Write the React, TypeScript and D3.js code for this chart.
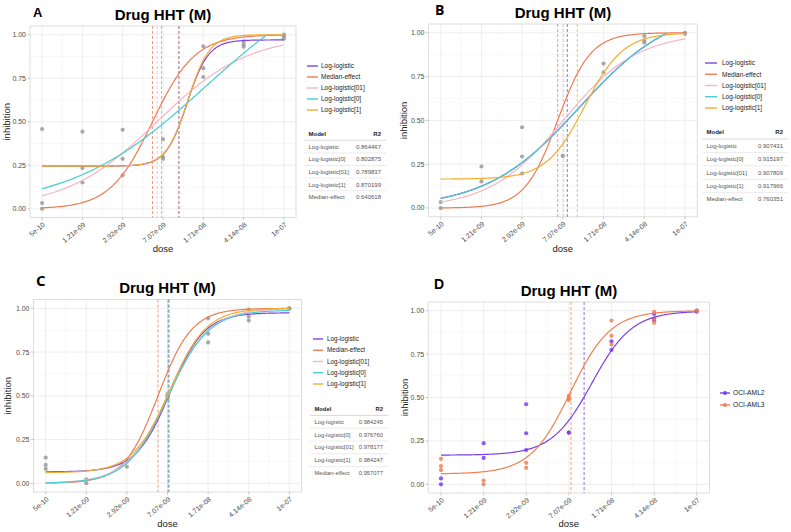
import React from "react";
import * as d3 from "d3";

const W = 791;
const H = 532;

const doseTicks = [5e-10, 1.21e-9, 2.92e-9, 7.07e-9, 1.71e-8, 4.14e-8, 1e-7];
const doseTickLabels = ["5e-10", "1.21e-09", "2.92e-09", "7.07e-09", "1.71e-08", "4.14e-08", "1e-07"];
const yTicks = [0, 0.25, 0.5, 0.75, 1];
const yTickLabels = ["0.00", "0.25", "0.50", "0.75", "1.00"];

const modelNames = ["Log-logistic", "Median-effect", "Log-logistic[01]", "Log-logistic[0]", "Log-logistic[1]"];
const modelColors = ["#7F45E0", "#F07A52", "#F6B5C4", "#46CDD0", "#F6AC2E"];
const tableModels = ["Log-logistic", "Log-logistic[0]", "Log-logistic[01]", "Log-logistic[1]", "Median-effect"];

// replicate inhibition values per dose (index matches doseTicks)
const panelAValues = [
  [0.458, 0.033, 0.0],
  [0.443, 0.234, 0.151],
  [0.454, 0.287, 0.192],
  [0.4, 0.297, 0.287],
  [0.933, 0.808, 0.757],
  [0.962, 0.943, 0.931],
  [1.0, 0.99, 0.977],
];
const aml2Values = [
  [0.034, 0.0],
  [0.237, 0.152],
  [0.461, 0.294, 0.197],
  [0.298, 0.298],
  [0.824, 0.774],
  [0.981, 0.954, 0.945],
  [1.0, 0.994],
];
const aml3Values = [
  [0.147, 0.105, 0.082],
  [0.022, 0.0],
  [0.124, 0.095],
  [0.51, 0.497, 0.485],
  [0.943, 0.855, 0.805],
  [0.993, 0.952, 0.93],
  [1.0, 0.998],
];

// fitted model parameters [bottom, top, ec50, hill], in modelNames order
const panelAFits = [
  [0.245, 0.97, 1.2e-8, 4.3],
  [0, 1, 5.62e-9, 2.15],
  [0, 1, 6.2e-9, 1.0],
  [0, 1.4, 1.78e-8, 0.675],
  [0.245, 1.0, 1.22e-8, 4.2],
];
const panelBFits = [
  [0, 1.15, 1.015e-8, 0.99],
  [0, 1, 6.32e-9, 2.8],
  [0, 1, 7.15e-9, 1.25],
  [0, 1.15, 1.015e-8, 0.99],
  [0.165, 1, 1.14e-8, 2.4],
];
const panelCFits = [
  [0.065, 0.975, 7.5e-9, 2.7],
  [0, 1, 5.75e-9, 2.7],
  [0, 1, 7.15e-9, 2.2],
  [0, 0.99, 7.13e-9, 2.27],
  [0.06, 1.0, 7.4e-9, 2.5],
];
const panelDFits = [
  [0.168, 0.998, 1.14e-8, 2.4],
  [0.06, 1.0, 7.3e-9, 2.4],
];

// dashed IC50 lines
const panelAIC50 = [1.0e-8, 5.62e-9, 6.22e-9, 6.85e-9, 1.007e-8];
const panelBIC50 = [7.8e-9, 6.32e-9, 7.15e-9, 7.8e-9, 9.68e-9];
const panelCIC50 = [7.25e-9, 5.75e-9, 7.1e-9, 7.2e-9, 7.35e-9];
const panelDIC50 = [9.7e-9, 7.4e-9];

const panelAR2 = ["0.864467", "0.802875", "0.789837", "0.870199", "0.640618"];
const panelBR2 = ["0.907431", "0.915197", "0.907809", "0.917966", "0.760351"];
const panelCR2 = ["0.984245", "0.976760", "0.978177", "0.984247", "0.957077"];

const cellNames = ["OCI-AML2", "OCI-AML3"];
const cellColors = ["#7B3FE4", "#F08050"];

const SANS = "'Liberation Sans', Arial, sans-serif";

type Spec = {
  label: string;
  labelX: number;
  labelY: number;
  labelSize: number;
  labelFont: string;
  titleX: number;
  titleY: number;
  plot: { x0: number; x1: number; y0: number; y1: number };
  series: { values: number[][]; color: string }[];
  fits: number[][];
  fitColors: string[];
  ic50: number[];
  legendNames: string[];
  legendColors: string[];
  legendPoints: boolean;
  legend: { kx0: number; kx1: number; tx: number; y0: number; dy: number; fs: number };
  table?: { x0: number; x1: number; hy: number; dy: number; fs: number; r2: string[] };
  doseY: number;
  inhibX: number;
};

function fitValue(p: number[], x: number) {
  const [b, t, e, h] = p;
  return b + (t - b) / (1 + Math.pow(e / x, h));
}

function Panel({ s }: { s: Spec }) {
  const { x0, x1, y0, y1 } = s.plot;
  const ex = Math.pow(200, 0.05);
  const xs = d3.scaleLog().domain([doseTicks[0] / ex, doseTicks[6] * ex]).range([x0, x1]);
  const ys = d3.scaleLinear().domain([-0.05, 1.05]).range([y1, y0]);
  const minorX = doseTicks.slice(1).map((t, i) => Math.sqrt(t * doseTicks[i]));
  const minorY = [0.125, 0.375, 0.625, 0.875];
  const samples = d3.range(0, 301).map((i) => doseTicks[0] * Math.pow(doseTicks[6] / doseTicks[0], i / 300));
  const line = d3
    .line<[number, number]>()
    .x((d) => xs(d[0]))
    .y((d) => ys(d[1]));

  return (
    <g>
      {/* panel background & grid */}
      <rect x={x0} y={y0} width={x1 - x0} height={y1 - y0} fill="#fff" />
      {minorX.map((v, i) => (
        <line key={"mx" + i} x1={xs(v)} x2={xs(v)} y1={y0} y2={y1} stroke="#F4F4F4" strokeWidth={0.6} />
      ))}
      {minorY.map((v, i) => (
        <line key={"my" + i} x1={x0} x2={x1} y1={ys(v)} y2={ys(v)} stroke="#F4F4F4" strokeWidth={0.6} />
      ))}
      {doseTicks.map((v, i) => (
        <line key={"gx" + i} x1={xs(v)} x2={xs(v)} y1={y0} y2={y1} stroke="#EAEAEA" strokeWidth={0.8} />
      ))}
      {yTicks.map((v, i) => (
        <line key={"gy" + i} x1={x0} x2={x1} y1={ys(v)} y2={ys(v)} stroke="#EAEAEA" strokeWidth={0.8} />
      ))}
      <rect x={x0} y={y0} width={x1 - x0} height={y1 - y0} fill="none" stroke="#D6D6D6" strokeWidth={0.8} />

      {/* axis ticks and labels */}
      {yTicks.map((v, i) => (
        <g key={"yt" + i}>
          <line x1={x0 - 2.5} x2={x0} y1={ys(v)} y2={ys(v)} stroke="#B0B0B0" strokeWidth={0.7} />
          <text x={x0 - 4} y={ys(v)} dy="0.35em" textAnchor="end" fontSize={7} fill="#4D4D4D" fontFamily={SANS}>
            {yTickLabels[i]}
          </text>
        </g>
      ))}
      {doseTicks.map((v, i) => (
        <g key={"xt" + i}>
          <line x1={xs(v)} x2={xs(v)} y1={y1} y2={y1 + 2.5} stroke="#B0B0B0" strokeWidth={0.7} />
          <text
            transform={`translate(${xs(v) + 3.5},${y1 + 8}) rotate(-40)`}
            textAnchor="end"
            fontSize={7}
            fill="#4D4D4D"
            fontFamily={SANS}
          >
            {doseTickLabels[i]}
          </text>
        </g>
      ))}
      <text x={(x0 + x1) / 2} y={s.doseY} textAnchor="middle" fontSize={9.5} fill="#1A1A1A" fontFamily={SANS}>
        dose
      </text>
      <text
        transform={`translate(${s.inhibX},${(y0 + y1) / 2}) rotate(-90)`}
        textAnchor="middle"
        fontSize={9.5}
        fill="#1A1A1A"
        fontFamily={SANS}
      >
        inhibition
      </text>

      {/* data points */}
      {s.series.map((ser, si) =>
        ser.values.map((reps, di) =>
          reps.map((v, ri) => (
            <circle
              key={`p${si}-${di}-${ri}`}
              cx={xs(doseTicks[di])}
              cy={ys(v)}
              r={2.1}
              fill={ser.color}
              opacity={0.85}
            />
          ))
        )
      )}

      {/* IC50 dashed lines */}
      {s.ic50.map((v, i) => (
        <line
          key={"ic" + i}
          x1={xs(v)}
          x2={xs(v)}
          y1={y0}
          y2={y1}
          stroke={s.fitColors[i]}
          strokeWidth={0.9}
          strokeDasharray="3,2"
          opacity={0.85}
        />
      ))}

      {/* fitted curves */}
      {s.fits.map((p, i) => {
        const pts: [number, number][] = [];
        for (const x of samples) {
          const y = fitValue(p, x);
          if (y > 1.0 || y < 0) break;
          pts.push([x, y]);
        }
        return <path key={"c" + i} d={line(pts) || ""} fill="none" stroke={s.fitColors[i]} strokeWidth={1.2} />;
      })}

      {/* panel label and title */}
      <text x={s.labelX} y={s.labelY} fontSize={s.labelSize} fontWeight="bold" fontFamily={s.labelFont} fill="#000">
        {s.label}
      </text>
      <text x={s.titleX} y={s.titleY} textAnchor="middle" fontSize={15} fontWeight="bold" fontFamily={SANS} fill="#000">
        Drug HHT (M)
      </text>

      {/* legend */}
      {s.legendNames.map((n, i) => {
        const y = s.legend.y0 + i * s.legend.dy;
        return (
          <g key={"lg" + i}>
            <line x1={s.legend.kx0} x2={s.legend.kx1} y1={y} y2={y} stroke={s.legendColors[i]} strokeWidth={1.4} />
            {s.legendPoints && (
              <circle cx={(s.legend.kx0 + s.legend.kx1) / 2} cy={y} r={1.9} fill={s.legendColors[i]} />
            )}
            <text x={s.legend.tx} y={y} dy="0.35em" fontSize={s.legend.fs} fill="#222" fontFamily={SANS}>
              {n}
            </text>
          </g>
        );
      })}

      {/* R2 table */}
      {s.table && (
        <g>
          <text x={s.table.x0 + 4.5} y={s.table.hy} dy="0.35em" fontSize={s.table.fs} fontWeight="bold" fill="#222" fontFamily={SANS}>
            Model
          </text>
          <text x={s.table.x1 - 5} y={s.table.hy} dy="0.35em" textAnchor="end" fontSize={s.table.fs} fontWeight="bold" fill="#222" fontFamily={SANS}>
            R2
          </text>
          <line x1={s.table.x0} x2={s.table.x1} y1={s.table.hy + s.table.dy / 2} y2={s.table.hy + s.table.dy / 2} stroke="#CFCFCF" strokeWidth={0.8} />
          {tableModels.map((m, i) => {
            const y = s.table!.hy + s.table!.dy * (i + 1);
            return (
              <g key={"tb" + i}>
                <text x={s.table!.x0 + 4.5} y={y} dy="0.35em" fontSize={s.table!.fs} fill="#555" fontFamily={SANS}>
                  {m}
                </text>
                <text x={s.table!.x1 - 5} y={y} dy="0.35em" textAnchor="end" fontSize={s.table!.fs} fill="#555" fontFamily={SANS}>
                  {s.table!.r2[i]}
                </text>
                {i < 4 && (
                  <line x1={s.table!.x0} x2={s.table!.x1} y1={y + s.table!.dy / 2} y2={y + s.table!.dy / 2} stroke="#E4E4E4" strokeWidth={0.7} />
                )}
              </g>
            );
          })}
        </g>
      )}
    </g>
  );
}

const specs: Spec[] = [
  {
    label: "A",
    labelX: 33,
    labelY: 17,
    labelSize: 13,
    labelFont: SANS,
    titleX: 163,
    titleY: 20,
    plot: { x0: 30, x1: 296, y0: 26, y1: 217.5 },
    series: [{ values: panelAValues, color: "#9A9A9A" }],
    fits: panelAFits,
    fitColors: modelColors,
    ic50: panelAIC50,
    legendNames: modelNames,
    legendColors: modelColors,
    legendPoints: false,
    legend: { kx0: 307, kx1: 318, tx: 321, y0: 66, dy: 11, fs: 6.5 },
    table: { x0: 304, x1: 386, hy: 134, dy: 12.6, fs: 6, r2: panelAR2 },
    doseY: 252,
    inhibX: 10,
  },
  {
    label: "B",
    labelX: 435,
    labelY: 15,
    labelSize: 14,
    labelFont: "'Open Sans', sans-serif",
    titleX: 563,
    titleY: 17.5,
    plot: { x0: 428.5, x1: 697.2, y0: 24, y1: 216.8 },
    series: [{ values: aml2Values, color: "#9A9A9A" }],
    fits: panelBFits,
    fitColors: modelColors,
    ic50: panelBIC50,
    legendNames: modelNames,
    legendColors: modelColors,
    legendPoints: false,
    legend: { kx0: 705, kx1: 717, tx: 722, y0: 63, dy: 11.25, fs: 6.5 },
    table: { x0: 702, x1: 788, hy: 132.3, dy: 13.4, fs: 6, r2: panelBR2 },
    doseY: 252,
    inhibX: 407,
  },
  {
    label: "C",
    labelX: 36,
    labelY: 286,
    labelSize: 15,
    labelFont: "'Open Sans', sans-serif",
    titleX: 167.5,
    titleY: 292.5,
    plot: { x0: 33.5, x1: 301.5, y0: 299.6, y1: 492 },
    series: [{ values: aml3Values, color: "#9A9A9A" }],
    fits: panelCFits,
    fitColors: modelColors,
    ic50: panelCIC50,
    legendNames: modelNames,
    legendColors: modelColors,
    legendPoints: false,
    legend: { kx0: 313, kx1: 323, tx: 327, y0: 339, dy: 11.25, fs: 6.3 },
    table: { x0: 310, x1: 388, hy: 409, dy: 12.8, fs: 5.8, r2: panelCR2 },
    doseY: 527,
    inhibX: 11,
  },
  {
    label: "D",
    labelX: 434,
    labelY: 288.5,
    labelSize: 14,
    labelFont: SANS,
    titleX: 569,
    titleY: 296,
    plot: { x0: 428.2, x1: 709.5, y0: 302, y1: 493 },
    series: [
      { values: aml2Values, color: cellColors[0] },
      { values: aml3Values, color: cellColors[1] },
    ],
    fits: panelDFits,
    fitColors: cellColors,
    ic50: panelDIC50,
    legendNames: cellNames,
    legendColors: cellColors,
    legendPoints: true,
    legend: { kx0: 720, kx1: 730, tx: 733, y0: 393, dy: 12, fs: 6.7 },
    doseY: 527,
    inhibX: 408,
  },
];

export default function App() {
  return (
    <svg
      width={W}
      height={H}
      viewBox={`0 0 ${W} ${H}`}
      style={{ position: "absolute", left: 0, top: 0, background: "#fff" }}
    >
      <rect x={0} y={0} width={W} height={H} fill="#fff" />
      {specs.map((s) => (
        <Panel key={s.label} s={s} />
      ))}
    </svg>
  );
}
